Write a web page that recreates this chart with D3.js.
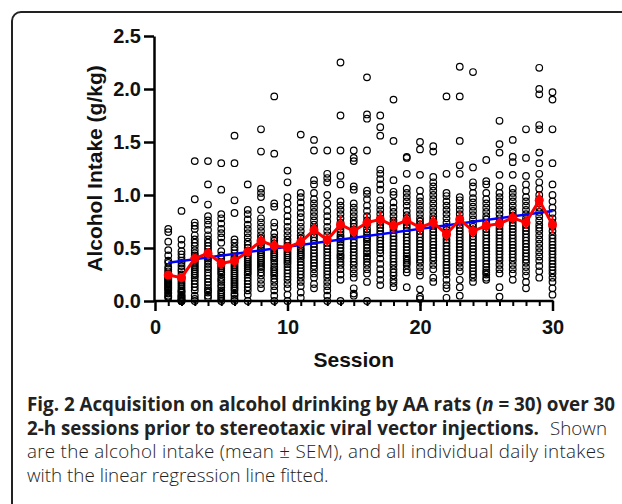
<!DOCTYPE html>
<html>
<head>
<meta charset="utf-8">
<script src="https://cdn.jsdelivr.net/npm/d3@7"></script>
<style>
  body { margin: 0; background: #fff; }
  svg { display: block; }
</style>
</head>
<body>
<svg id="chart" width="622" height="504"></svg>
<script>
// DATA SECTION

let sessions = d3.range(1, 31);

// individual daily intakes (g/kg), one list per session, 30 rats each
let intakes = [
  [0.68,0.65,0.56,0.48,0.43,0.38,0.36,0.32,0.30,0.28,0.26,0.24,0.22,0.21,0.20,0.19,0.18,0.17,0.16,0.15,0.14,0.13,0.12,0.11,0.10,0.08,0.07,0.05,0.04,0.03],
  [0.85,0.58,0.53,0.47,0.44,0.41,0.38,0.36,0.33,0.30,0.28,0.25,0.22,0.20,0.18,0.16,0.14,0.12,0.10,0.09,0.08,0.06,0.05,0.04,0.03,0.02,0.01,0,0,0],
  [1.32,0.96,0.74,0.71,0.68,0.62,0.58,0.55,0.52,0.48,0.45,0.43,0.41,0.40,0.38,0.36,0.34,0.32,0.30,0.28,0.26,0.24,0.22,0.19,0.16,0.13,0.10,0.05,0.02,0],
  [1.32,1.10,0.91,0.80,0.76,0.72,0.67,0.62,0.58,0.55,0.52,0.49,0.46,0.44,0.42,0.40,0.38,0.35,0.32,0.30,0.27,0.24,0.21,0.18,0.15,0.12,0.10,0.08,0.05,0.03],
  [1.30,1.05,0.82,0.78,0.73,0.68,0.64,0.60,0.55,0.47,0.43,0.40,0.37,0.35,0.33,0.31,0.29,0.27,0.25,0.22,0.20,0.18,0.15,0.13,0.10,0.08,0.06,0.04,0.02,0],
  [1.56,1.30,0.95,0.83,0.58,0.55,0.51,0.48,0.45,0.42,0.40,0.38,0.36,0.34,0.32,0.30,0.28,0.26,0.24,0.22,0.20,0.18,0.16,0.14,0.12,0.10,0.07,0.05,0.02,0],
  [1.10,0.86,0.82,0.77,0.72,0.68,0.64,0.60,0.56,0.53,0.50,0.47,0.45,0.43,0.41,0.39,0.37,0.35,0.33,0.31,0.29,0.27,0.25,0.22,0.19,0.16,0.13,0.10,0.06,0],
  [1.62,1.41,1.06,1.02,0.98,0.86,0.78,0.74,0.70,0.66,0.62,0.59,0.56,0.53,0.50,0.48,0.46,0.44,0.42,0.40,0.38,0.36,0.34,0.32,0.30,0.27,0.24,0.20,0.16,0.12],
  [1.93,1.39,0.92,0.89,0.74,0.70,0.64,0.60,0.57,0.54,0.52,0.50,0.48,0.46,0.44,0.42,0.40,0.38,0.35,0.32,0.30,0.28,0.26,0.24,0.21,0.18,0.14,0.10,0.05,0],
  [1.23,1.12,0.98,0.92,0.86,0.80,0.75,0.70,0.66,0.62,0.58,0.55,0.52,0.49,0.47,0.45,0.43,0.41,0.39,0.37,0.35,0.32,0.29,0.26,0.23,0.20,0.16,0.12,0.06,0],
  [1.57,1.02,0.98,0.93,0.88,0.83,0.79,0.74,0.70,0.66,0.62,0.59,0.56,0.53,0.50,0.48,0.46,0.44,0.42,0.40,0.37,0.34,0.31,0.28,0.25,0.22,0.18,0.14,0.08,0.03],
  [1.52,1.42,1.14,1.10,1.02,0.96,0.92,0.88,0.84,0.80,0.76,0.72,0.69,0.66,0.63,0.60,0.57,0.54,0.51,0.48,0.45,0.42,0.39,0.36,0.33,0.30,0.26,0.22,0.16,0.12],
  [1.42,1.20,1.16,1.12,1.00,0.92,0.85,0.80,0.75,0.70,0.66,0.62,0.58,0.55,0.52,0.49,0.46,0.43,0.40,0.37,0.34,0.31,0.28,0.25,0.22,0.18,0.14,0.10,0.05,0],
  [2.25,1.75,1.42,1.18,1.10,0.94,0.90,0.86,0.82,0.78,0.74,0.71,0.68,0.65,0.62,0.60,0.58,0.56,0.53,0.50,0.47,0.44,0.42,0.40,0.37,0.34,0.30,0.25,0.20,0],
  [1.42,1.35,1.32,1.08,1.05,0.92,0.88,0.84,0.80,0.76,0.73,0.70,0.67,0.64,0.61,0.58,0.55,0.52,0.49,0.46,0.43,0.40,0.37,0.34,0.30,0.26,0.22,0.12,0.07,0.05],
  [2.11,1.76,1.72,1.42,1.04,1.01,0.96,0.90,0.85,0.80,0.76,0.72,0.68,0.65,0.62,0.60,0.58,0.56,0.53,0.50,0.47,0.45,0.42,0.40,0.37,0.34,0.30,0.26,0.18,0],
  [1.75,1.64,1.56,1.24,1.20,1.15,1.10,1.05,0.95,0.90,0.86,0.82,0.78,0.75,0.72,0.69,0.66,0.63,0.60,0.57,0.54,0.51,0.48,0.45,0.40,0.35,0.30,0.25,0.20,0.15],
  [1.90,1.51,1.14,1.03,1.00,0.93,0.88,0.84,0.80,0.76,0.73,0.70,0.67,0.64,0.61,0.58,0.55,0.52,0.49,0.46,0.43,0.40,0.37,0.34,0.30,0.27,0.24,0.20,0.17,0.13],
  [1.36,1.35,1.20,1.06,1.02,0.98,0.94,0.90,0.85,0.81,0.78,0.75,0.72,0.69,0.66,0.63,0.60,0.57,0.54,0.51,0.48,0.45,0.42,0.40,0.38,0.36,0.34,0.30,0.27,0.13],
  [1.50,1.43,1.19,1.04,0.98,0.94,0.90,0.86,0.82,0.78,0.75,0.72,0.69,0.66,0.63,0.60,0.57,0.54,0.51,0.48,0.45,0.42,0.39,0.36,0.32,0.28,0.24,0.11,0.04,0.02],
  [1.46,1.41,1.17,1.12,1.08,1.04,1.00,0.96,0.92,0.88,0.84,0.80,0.77,0.74,0.71,0.68,0.65,0.62,0.59,0.56,0.53,0.50,0.47,0.44,0.41,0.38,0.34,0.30,0.22,0.18],
  [1.93,1.20,1.02,0.99,0.94,0.90,0.86,0.82,0.78,0.74,0.70,0.67,0.64,0.61,0.58,0.55,0.52,0.49,0.46,0.43,0.40,0.37,0.34,0.31,0.28,0.25,0.20,0.15,0.12,0.03],
  [2.21,1.93,1.51,1.28,1.20,0.98,0.95,0.90,0.86,0.82,0.78,0.75,0.72,0.69,0.66,0.63,0.60,0.57,0.54,0.51,0.48,0.45,0.42,0.39,0.36,0.32,0.28,0.20,0.13,0.05],
  [2.16,1.26,1.12,1.08,1.02,0.97,0.93,0.89,0.85,0.81,0.77,0.73,0.70,0.67,0.64,0.61,0.58,0.55,0.52,0.49,0.46,0.43,0.40,0.37,0.34,0.31,0.28,0.25,0.22,0.18],
  [1.33,1.13,1.10,1.02,0.96,0.92,0.88,0.84,0.80,0.77,0.74,0.71,0.68,0.65,0.62,0.59,0.56,0.53,0.50,0.47,0.44,0.41,0.38,0.35,0.32,0.29,0.27,0.25,0.22,0.20],
  [1.70,1.48,1.40,1.19,1.08,1.02,0.98,0.94,0.90,0.86,0.82,0.78,0.74,0.71,0.68,0.65,0.62,0.59,0.56,0.53,0.50,0.47,0.44,0.41,0.38,0.34,0.30,0.26,0.13,0.04],
  [1.52,1.36,1.31,1.19,1.06,1.02,0.98,0.94,0.90,0.86,0.83,0.80,0.77,0.74,0.71,0.68,0.65,0.62,0.59,0.56,0.53,0.50,0.47,0.44,0.41,0.38,0.34,0.30,0.26,0.20],
  [1.62,1.35,1.18,1.10,1.04,0.98,0.94,0.90,0.86,0.82,0.78,0.75,0.72,0.69,0.66,0.63,0.60,0.57,0.54,0.51,0.48,0.45,0.42,0.39,0.36,0.32,0.28,0.24,0.18,0.12],
  [2.20,2.00,1.95,1.66,1.62,1.40,1.30,1.20,1.12,1.06,1.00,0.96,0.92,0.88,0.84,0.80,0.76,0.72,0.69,0.66,0.62,0.58,0.54,0.50,0.46,0.42,0.38,0.33,0.28,0.22],
  [1.97,1.90,1.62,1.30,1.10,1.00,0.94,0.88,0.83,0.78,0.74,0.70,0.66,0.62,0.59,0.56,0.53,0.50,0.47,0.44,0.41,0.38,0.35,0.32,0.29,0.26,0.22,0.18,0.12,0.06]
];

// mean and SEM per session
let meanIntake = [0.245,0.22,0.40,0.45,0.355,0.38,0.465,0.566,0.52,0.505,
                  0.555,0.67,0.575,0.72,0.66,0.74,0.77,0.71,0.76,0.695,
                  0.74,0.63,0.77,0.66,0.71,0.73,0.785,0.74,0.95,0.72];
let semIntake = [0.035,0.04,0.045,0.05,0.05,0.06,0.05,0.06,0.07,0.05,
                 0.06,0.06,0.06,0.08,0.06,0.08,0.07,0.07,0.06,0.07,
                 0.07,0.07,0.08,0.06,0.06,0.06,0.06,0.06,0.08,0.08];

// linear regression line end points
let regSessions = [1, 30];
let regIntake = [0.36, 0.85];

let yTicks = [0, 0.5, 1.0, 1.5, 2.0, 2.5];
let xMajorTicks = [0, 10, 20, 30];

// RENDER SECTION

let svg = d3.select('#chart');

// figure frame
svg.append('rect')
  .attr('x', 12).attr('y', 12)
  .attr('width', 640).attr('height', 520)
  .attr('rx', 9).attr('ry', 9)
  .attr('fill', 'none')
  .attr('stroke', '#222')
  .attr('stroke-width', 2);

let x = d3.scaleLinear().domain([0, 30]).range([155, 552.5]);
let y = d3.scaleLinear().domain([0, 2.5]).range([301, 36]);

let points = [];
intakes.forEach((vals, i) => vals.forEach(v => points.push({session: sessions[i], v: v})));

// individual points
svg.append('g')
  .attr('class', 'points')
  .selectAll('circle')
  .data(points)
  .enter().append('circle')
  .attr('cx', d => x(d.session))
  .attr('cy', d => y(d.v))
  .attr('r', 3.3)
  .attr('fill', 'none')
  .attr('stroke', '#000')
  .attr('stroke-width', 1.2);

// regression line
svg.append('line')
  .attr('x1', x(regSessions[0])).attr('y1', y(regIntake[0]))
  .attr('x2', x(regSessions[1])).attr('y2', y(regIntake[1]))
  .attr('stroke', '#0000ff')
  .attr('stroke-width', 2.5);

let means = sessions.map((s, i) => ({session: s, m: meanIntake[i], e: semIntake[i]}));

// error bars
svg.append('g')
  .selectAll('line')
  .data(means)
  .enter().append('line')
  .attr('x1', d => x(d.session)).attr('x2', d => x(d.session))
  .attr('y1', d => y(d.m - d.e)).attr('y2', d => y(d.m + d.e))
  .attr('stroke', '#ff0000')
  .attr('stroke-width', 2);

// mean curve
svg.append('path')
  .datum(means)
  .attr('fill', 'none')
  .attr('stroke', '#ff0000')
  .attr('stroke-width', 3)
  .attr('d', d3.line().x(d => x(d.session)).y(d => y(d.m)));

svg.append('g')
  .selectAll('circle')
  .data(means)
  .enter().append('circle')
  .attr('cx', d => x(d.session))
  .attr('cy', d => y(d.m))
  .attr('r', 4.5)
  .attr('fill', '#ff0000');

// axes
let fontAxis = 'Liberation Sans, Arial, sans-serif';

svg.append('g')
  .attr('transform', 'translate(154,0)')
  .call(d3.axisLeft(y).tickValues(yTicks).tickFormat(d3.format('.1f')).tickSize(10).tickSizeOuter(0).tickPadding(3))
  .call(g => g.select('.domain').attr('stroke-width', 2.5))
  .call(g => g.selectAll('.tick line').attr('stroke-width', 2.5))
  .call(g => g.selectAll('.tick text')
    .attr('font-family', fontAxis)
    .attr('font-size', 20)
    .attr('font-weight', 'bold')
    .attr('fill', '#111'));

// minor session ticks
svg.append('g')
  .attr('transform', 'translate(0,301)')
  .call(d3.axisBottom(x).tickValues(sessions).tickFormat('').tickSize(5).tickSizeOuter(0))
  .call(g => g.select('.domain').remove())
  .call(g => g.selectAll('.tick line').attr('stroke-width', 2));

svg.append('g')
  .attr('transform', 'translate(0,301)')
  .call(d3.axisBottom(x).tickValues(xMajorTicks).tickSize(10).tickSizeOuter(0).tickPadding(9))
  .call(g => g.select('.domain').attr('d', `M${154},0H${x(30) + 1}`).attr('stroke-width', 2.5))
  .call(g => g.selectAll('.tick line').attr('stroke-width', 2.5))
  .call(g => g.selectAll('.tick text')
    .attr('font-family', fontAxis)
    .attr('font-size', 20)
    .attr('font-weight', 'bold')
    .attr('fill', '#111'));

// axis titles
svg.append('text')
  .attr('x', x(15))
  .attr('y', 367)
  .attr('text-anchor', 'middle')
  .attr('font-family', fontAxis)
  .attr('font-size', 21)
  .attr('font-weight', 'bold')
  .attr('fill', '#111')
  .text('Session');

svg.append('text')
  .attr('transform', `translate(102,${y(1.25)}) rotate(-90)`)
  .attr('text-anchor', 'middle')
  .attr('font-family', fontAxis)
  .attr('font-size', 21)
  .attr('font-weight', 'bold')
  .attr('fill', '#111')
  .text('Alcohol Intake (g/kg)');

// caption
let capFont = 'Open Sans, Noto Sans, sans-serif';
let cap = svg.append('g')
  .attr('font-family', capFont)
  .attr('font-size', 18.8)
  .attr('fill', '#222');

let l1 = cap.append('text').attr('x', 27).attr('y', 411).attr('font-weight', 'bold');
l1.append('tspan').text('Fig. 2 Acquisition on alcohol drinking by AA rats (');
l1.append('tspan').attr('font-style', 'italic').text('n');
l1.append('tspan').text(' = 30) over 30');

cap.append('text').attr('x', 27).attr('y', 434.5).attr('font-weight', 'bold')
  .text('2-h sessions prior to stereotaxic viral vector injections.');
cap.append('text').attr('x', 607).attr('y', 434.5).attr('font-weight', 300)
  .attr('text-anchor', 'end')
  .text('Shown');

cap.append('text').attr('x', 27).attr('y', 458).attr('font-weight', 300)
  .attr('textLength', 578).attr('lengthAdjust', 'spacing')
  .text('are the alcohol intake (mean \u00b1 SEM), and all individual daily intakes');
cap.append('text').attr('x', 27).attr('y', 481.5).attr('font-weight', 300)
  .text('with the linear regression line fitted.');
</script>
</body>
</html>
